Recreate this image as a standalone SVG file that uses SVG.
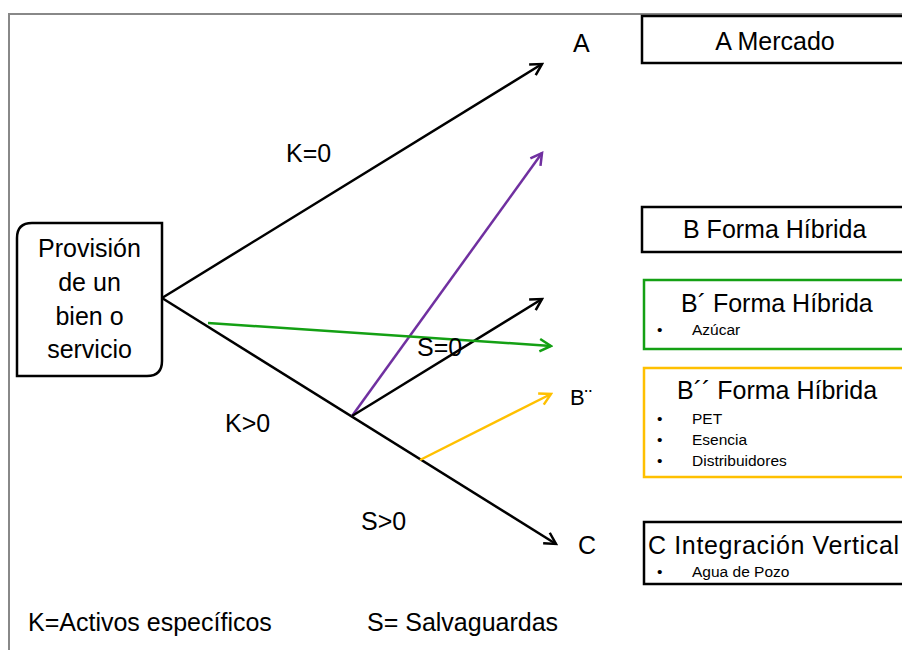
<svg xmlns="http://www.w3.org/2000/svg" width="902" height="650" viewBox="0 0 902 650">
  <style>
    text { font-family: "Liberation Sans", Arial, sans-serif; fill: #000; }
    .big { font-size: 25px; }
    .small { font-size: 15.5px; }
    .box { fill: #fff; stroke-width: 2.5; }
    .conn { fill: none; stroke-width: 2.5; }
  </style>
  <defs>
    <marker id="arrBlack" viewBox="0 0 12 12" refX="10" refY="6" markerWidth="6" markerHeight="6" markerUnits="strokeWidth" orient="auto">
      <path d="M1,1 L10,6 L1,11" fill="none" stroke="#000" stroke-width="2"/>
    </marker>
    <marker id="arrPurple" viewBox="0 0 12 12" refX="10" refY="6" markerWidth="6" markerHeight="6" markerUnits="strokeWidth" orient="auto">
      <path d="M1,1 L10,6 L1,11" fill="none" stroke="#7030A0" stroke-width="2"/>
    </marker>
    <marker id="arrGreen" viewBox="0 0 12 12" refX="10" refY="6" markerWidth="6" markerHeight="6" markerUnits="strokeWidth" orient="auto">
      <path d="M1,1 L10,6 L1,11" fill="none" stroke="#14A014" stroke-width="2"/>
    </marker>
    <marker id="arrYellow" viewBox="0 0 12 12" refX="10" refY="6" markerWidth="6" markerHeight="6" markerUnits="strokeWidth" orient="auto">
      <path d="M1,1 L10,6 L1,11" fill="none" stroke="#FFC000" stroke-width="2"/>
    </marker>
  </defs>

  <rect width="902" height="650" fill="#fff"/>
  <!-- frame -->
  <path d="M9,650 L9,14 L902,14" fill="none" stroke="#888" stroke-width="2"/>

  <!-- connectors -->
  <g id="connectors">
    <line class="conn" x1="162" y1="298" x2="542" y2="64" stroke="#000" marker-end="url(#arrBlack)"/>
    <line class="conn" x1="162" y1="298" x2="556" y2="544" stroke="#000" marker-end="url(#arrBlack)"/>
    <line class="conn" x1="352" y1="416" x2="542" y2="153" stroke="#7030A0" marker-end="url(#arrPurple)"/>
    <line class="conn" x1="352" y1="416" x2="542" y2="299" stroke="#000" marker-end="url(#arrBlack)"/>
    <line class="conn" x1="208" y1="323" x2="551" y2="346" stroke="#14A014" marker-end="url(#arrGreen)"/>
    <line class="conn" x1="420" y1="460" x2="551" y2="394" stroke="#FFC000" marker-end="url(#arrYellow)"/>
  </g>

  <!-- branch labels -->
  <g id="labels" class="big">
    <text x="286" y="162">K=0</text>
    <text x="225" y="432">K&gt;0</text>
    <text x="417" y="356">S=0</text>
    <text x="361" y="530">S&gt;0</text>
    <text x="573" y="52">A</text>
    <text x="570" y="405" style="font-size:22px">B¨</text>
    <text x="578" y="554">C</text>
  </g>

  <!-- start node -->
  <g id="provision">
    <path d="M32,223 L162,223 L162,361 Q162,376 147,376 L17,376 L17,238 Q17,223 32,223 Z" fill="#fff" stroke="#000" stroke-width="2.5"/>
    <text class="big" x="89.5" y="257" text-anchor="middle">Provisión</text>
    <text class="big" x="89.5" y="291" text-anchor="middle">de un</text>
    <text class="big" x="89.5" y="325" text-anchor="middle">bien o</text>
    <text class="big" x="89.5" y="358" text-anchor="middle">servicio</text>
  </g>

  <!-- outcome boxes -->
  <g id="mercado">
    <rect class="box" x="642" y="16" width="270" height="47" stroke="#000"/>
    <text class="big" x="775" y="50" text-anchor="middle">A Mercado</text>
  </g>

  <g id="hibrida">
    <rect class="box" x="642" y="207" width="270" height="45" stroke="#000"/>
    <text class="big" x="683" y="238">B Forma Híbrida</text>
  </g>

  <g id="hibrida-b1">
    <rect class="box" x="644" y="280" width="270" height="69" stroke="#14A014"/>
    <text class="big" x="681" y="312">B´ Forma Híbrida</text>
    <text class="small" x="657" y="335">•</text>
    <text class="small" x="692" y="335">Azúcar</text>
  </g>

  <g id="hibrida-b2">
    <rect class="box" x="644" y="368" width="270" height="109" stroke="#FFC000"/>
    <text class="big" x="677" y="399">B´´ Forma Híbrida</text>
    <text class="small" x="657" y="424">•</text>
    <text class="small" x="692" y="424">PET</text>
    <text class="small" x="657" y="445">•</text>
    <text class="small" x="692" y="445">Esencia</text>
    <text class="small" x="657" y="466">•</text>
    <text class="small" x="692" y="466">Distribuidores</text>
  </g>

  <g id="integracion">
    <rect class="box" x="644" y="522" width="270" height="62" stroke="#000"/>
    <text class="big" x="648" y="554" textLength="251" lengthAdjust="spacing">C Integración Vertical</text>
    <text class="small" x="657" y="577">•</text>
    <text class="small" x="692" y="577">Agua de Pozo</text>
  </g>

  <!-- legend -->
  <g id="legend" class="big">
    <text x="28" y="631">K=Activos específicos</text>
    <text x="367" y="631">S= Salvaguardas</text>
  </g>
</svg>
